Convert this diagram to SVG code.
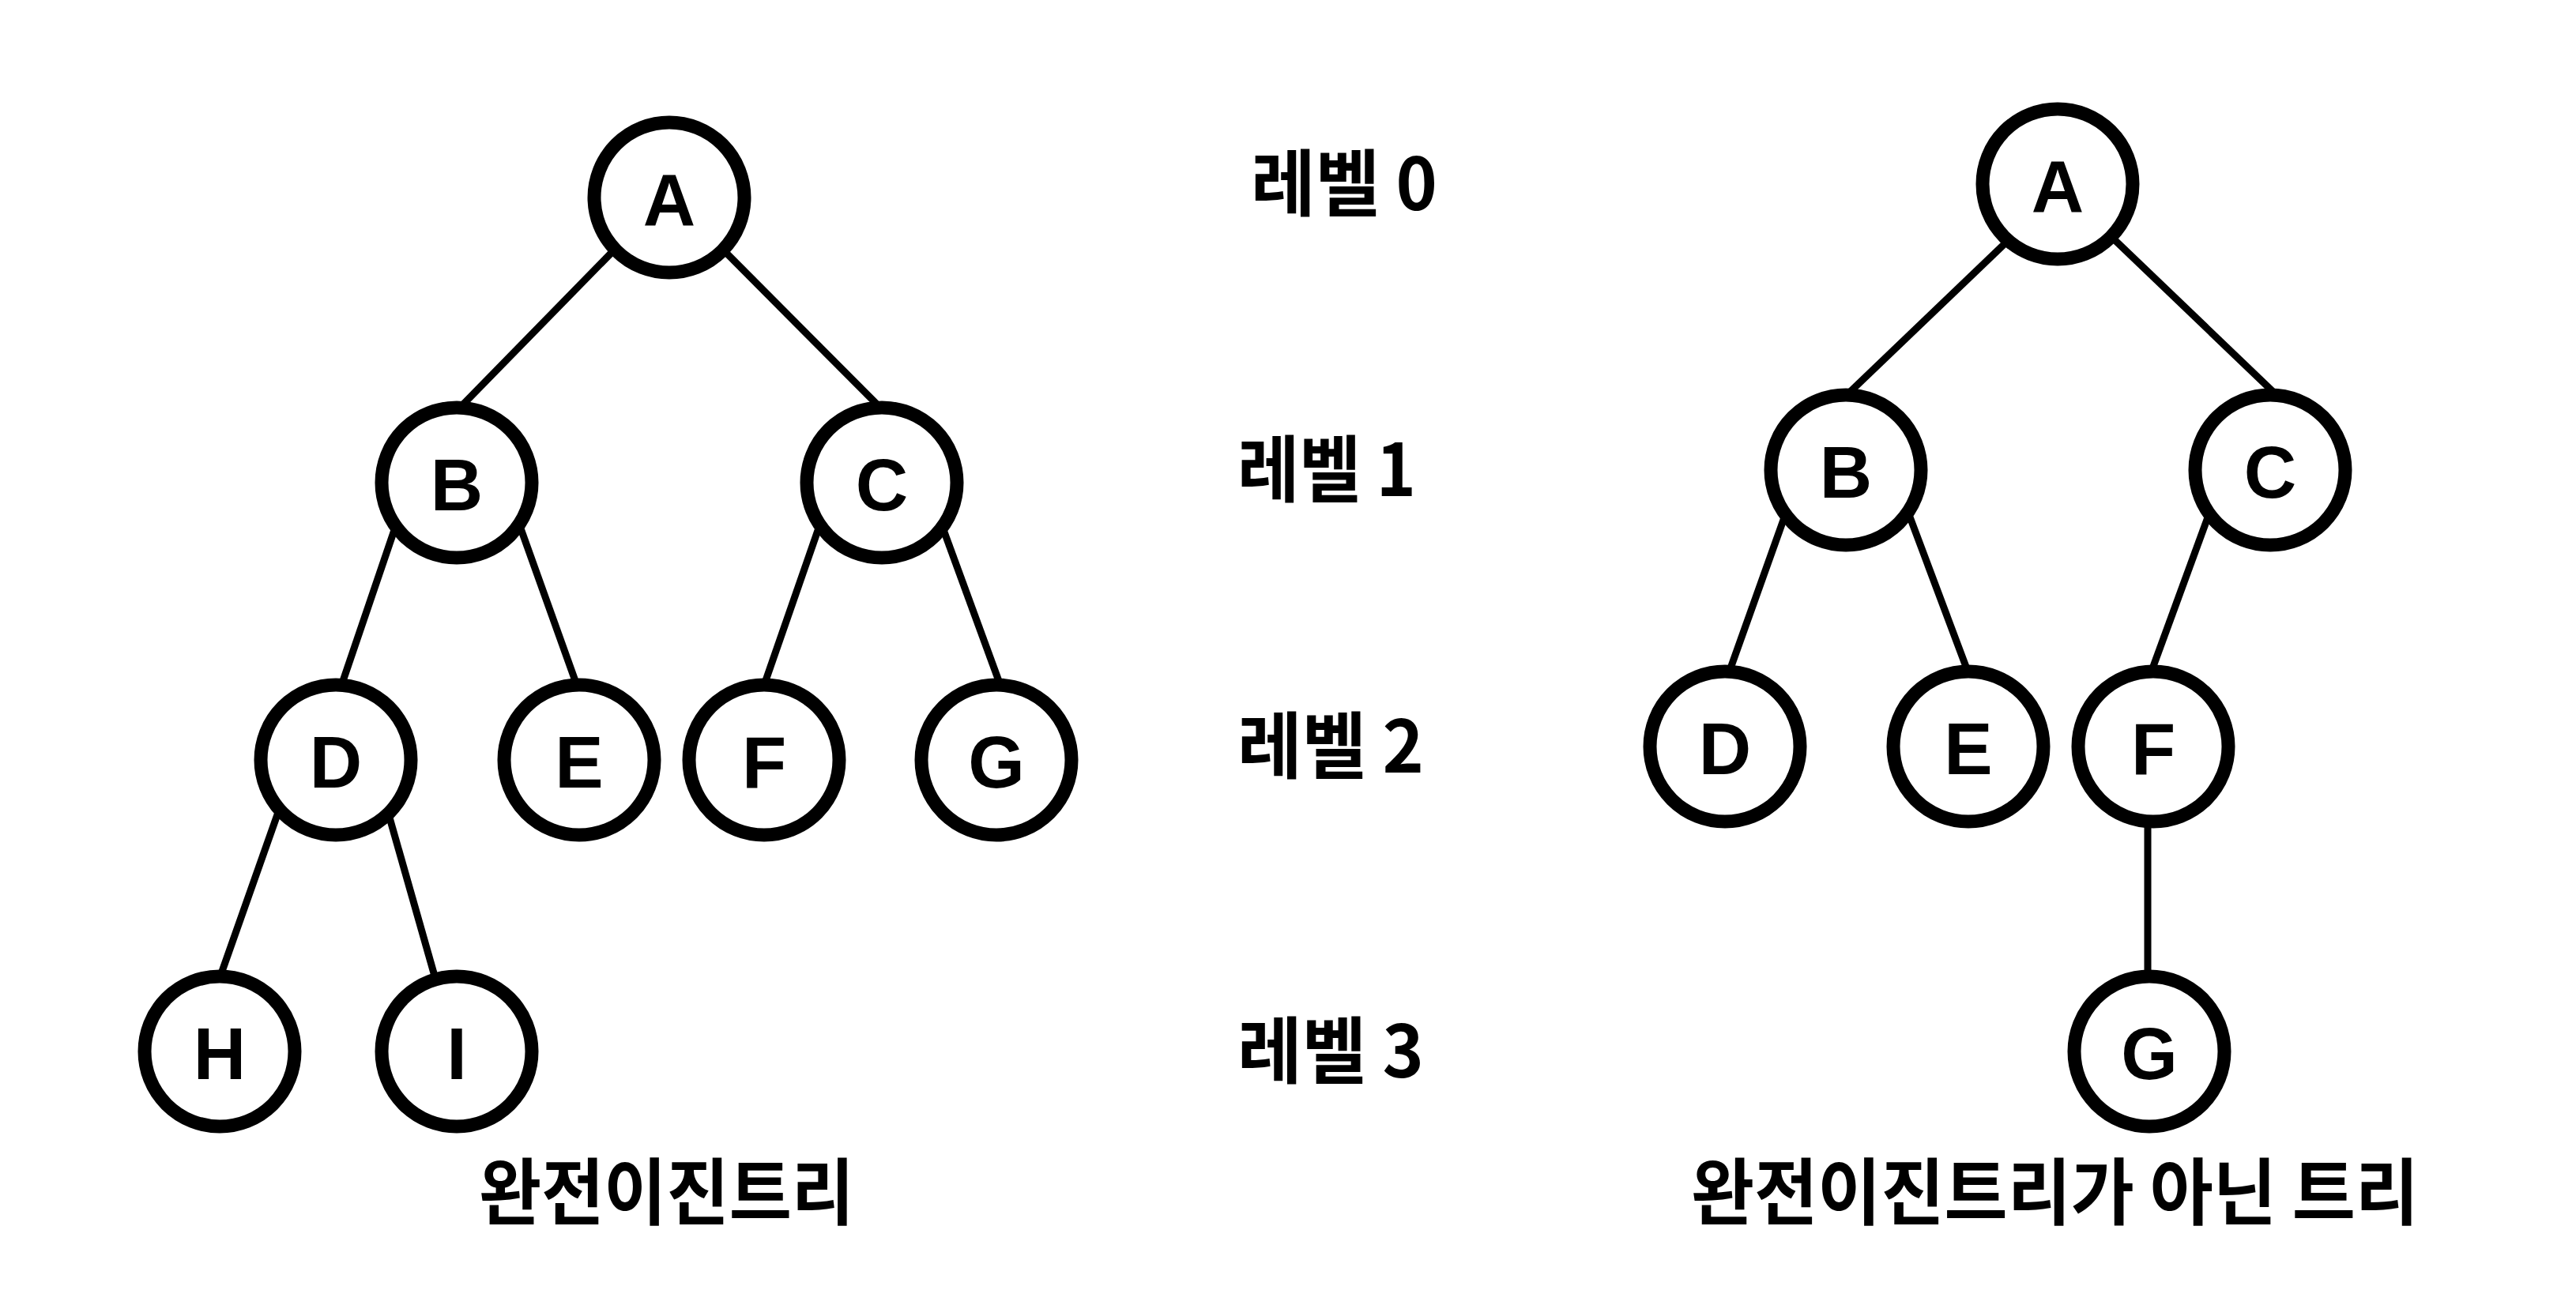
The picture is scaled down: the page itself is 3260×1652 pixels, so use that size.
<svg xmlns="http://www.w3.org/2000/svg" width="3260" height="1652" viewBox="0 0 3260 1652">
<style>
.edge{stroke:#000;stroke-width:9;fill:none}
.node circle{fill:#fff;stroke:#000;stroke-width:17}
.node text{font-family:"Liberation Sans",Arial,sans-serif;font-weight:bold;font-size:92px;text-anchor:middle;fill:#000}
.lbl{font-family:"Noto Sans CJK KR","Noto Sans",sans-serif;font-weight:bold;font-size:92px;fill:#000}
</style>
<rect width="3260" height="1652" fill="#fff"/>
<g id="connectors">
<line class="edge" x1="782.5" y1="311" x2="577.5" y2="520.7"/>
<line class="edge" x1="910.4" y1="311.4" x2="1117.6" y2="519.6"/>
<line class="edge" x1="502.8" y1="659.8" x2="430.2" y2="873.2"/>
<line class="edge" x1="654" y1="655" x2="732" y2="873"/>
<line class="edge" x1="1040" y1="657" x2="965" y2="873"/>
<line class="edge" x1="1189" y1="657" x2="1268" y2="873"/>
<line class="edge" x1="356" y1="1017" x2="277" y2="1241"/>
<line class="edge" x1="489" y1="1021" x2="553" y2="1246"/>
<line class="edge" x1="2549" y1="297" x2="2333" y2="504"/>
<line class="edge" x1="2666" y1="294" x2="2883" y2="502"/>
<line class="edge" x1="2262" y1="644" x2="2185" y2="860"/>
<line class="edge" x1="2412" y1="641" x2="2494" y2="860"/>
<line class="edge" x1="2798" y1="644" x2="2719" y2="860"/>
<line class="edge" x1="2718" y1="1030" x2="2718" y2="1245"/>
</g>
<g id="L-A" class="node"><circle cx="847" cy="250" r="95"/><text x="847" y="285">A</text></g>
<g id="L-B" class="node"><circle cx="578" cy="611" r="95"/><text x="578" y="646">B</text></g>
<g id="L-C" class="node"><circle cx="1116" cy="611" r="95"/><text x="1116" y="646">C</text></g>
<g id="L-D" class="node"><circle cx="425" cy="962" r="95"/><text x="425" y="997">D</text></g>
<g id="L-E" class="node"><circle cx="733" cy="962" r="95"/><text x="733" y="997">E</text></g>
<g id="L-F" class="node"><circle cx="967" cy="962" r="95"/><text x="967" y="997">F</text></g>
<g id="L-G" class="node"><circle cx="1261" cy="962" r="95"/><text x="1261" y="997">G</text></g>
<g id="L-H" class="node"><circle cx="278" cy="1331" r="95"/><text x="278" y="1366">H</text></g>
<g id="L-I" class="node"><circle cx="578" cy="1331" r="95"/><text x="578" y="1366">I</text></g>
<g id="R-A" class="node"><circle cx="2604" cy="233" r="95"/><text x="2604" y="268">A</text></g>
<g id="R-B" class="node"><circle cx="2336" cy="595" r="95"/><text x="2336" y="630">B</text></g>
<g id="R-C" class="node"><circle cx="2873" cy="595" r="95"/><text x="2873" y="630">C</text></g>
<g id="R-D" class="node"><circle cx="2183" cy="945" r="95"/><text x="2183" y="980">D</text></g>
<g id="R-E" class="node"><circle cx="2491" cy="945" r="95"/><text x="2491" y="980">E</text></g>
<g id="R-F" class="node"><circle cx="2725" cy="945" r="95"/><text x="2725" y="980">F</text></g>
<g id="R-G" class="node"><circle cx="2720" cy="1331" r="95"/><text x="2720" y="1366">G</text></g>
<g id="labels">
<text class="lbl" x="1583" y="266" textLength="236" lengthAdjust="spacingAndGlyphs">레벨 0</text>
<text class="lbl" x="1566" y="628" textLength="226" lengthAdjust="spacingAndGlyphs">레벨 1</text>
<text class="lbl" x="1566" y="978" textLength="236" lengthAdjust="spacingAndGlyphs">레벨 2</text>
<text class="lbl" x="1566" y="1364" textLength="236" lengthAdjust="spacingAndGlyphs">레벨 3</text>
<text class="lbl" x="606" y="1543" textLength="475" lengthAdjust="spacingAndGlyphs">완전이진트리</text>
<text class="lbl" x="2140" y="1543" textLength="921" lengthAdjust="spacingAndGlyphs">완전이진트리가 아닌 트리</text>
</g>
</svg>
